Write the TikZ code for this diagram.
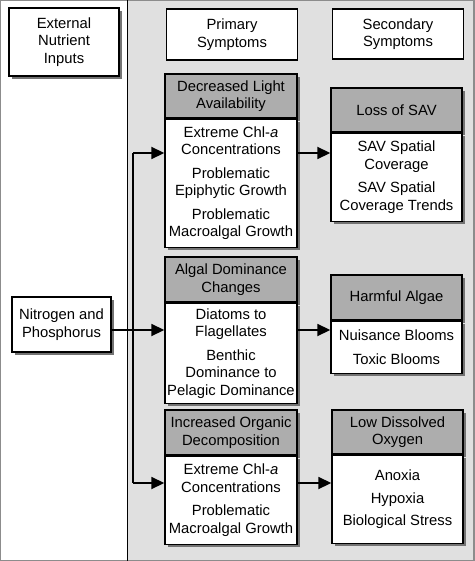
\documentclass[tikz,border=0pt]{standalone}
\usepackage{fontspec}
\setmainfont{Liberation Sans}
\usetikzlibrary{positioning, arrows.meta, shadows}
\tikzset{
        >={Triangle[length=13pt,width=12pt]}, % big filled heads
        box/.style={draw, line width=1.4pt, fill=white, inner sep=0pt, align=center,
                    font=\fontsize{14.8}{17.5}\selectfont},
        shbox/.style={box, drop shadow={shadow xshift=3pt, shadow yshift=-3pt, fill=black!55, opacity=1}},
        hdr/.style={shbox, fill=black!32},
        link/.style={->, line width=1.8pt}
        }

\begin{document}
\begin{tikzpicture}[x=1pt, y=-1pt, node distance=0pt]
        \useasboundingbox (0,0) rectangle (474,561);
        % the two panels
        \fill[black!12] (128,0) rectangle (474,561);
        \draw[black!45, line width=2pt] (0,0) rectangle (474,561);
        \draw[line width=1.2pt] (127.5,0) -- (127.5,561);

        % column titles and input
        \node[shbox, minimum width=110pt, minimum height=68pt](ext) at (64,42){External\\Nutrient\\Inputs};
        \node[box, minimum width=131pt, minimum height=51pt](prim) at (232,34.5){Primary\\Symptoms};
        \node[box, minimum width=131pt, minimum height=50pt](sec) at (398,34){Secondary\\Symptoms};
        \node[shbox, minimum width=99pt, minimum height=55pt](np) at (61.5,324.5){Nitrogen and\\Phosphorus};

        % primary symptoms
        \node[hdr, minimum width=132pt, minimum height=44pt](p1h) at (231,96){Decreased Light\\Availability};
        \node[shbox, minimum width=132pt, minimum height=128pt, below=of p1h](p1b)
              {Extreme Chl-\textit{a}\\Concentrations\\[6pt]Problematic\\Epiphytic Growth\\[6pt]Problematic\\Macroalgal Growth};
        \node[hdr, minimum width=132pt, minimum height=45pt](p2h) at (231,279.5){Algal Dominance\\Changes};
        \node[shbox, minimum width=132pt, minimum height=100pt, below=of p2h](p2b)
              {Diatoms to\\Flagellates\\[6pt]Benthic\\Dominance to\\Pelagic Dominance};
        \node[hdr, minimum width=132pt, minimum height=45pt](p3h) at (231,432.5){Increased Organic\\Decomposition};
        \node[shbox, minimum width=132pt, minimum height=88pt, below=of p3h](p3b)
              {Extreme Chl-\textit{a}\\Concentrations\\[6pt]Problematic\\Macroalgal Growth};

        % secondary symptoms
        \node[hdr, minimum width=131pt, minimum height=44pt](s1h) at (396.5,110){Loss of SAV};
        \node[shbox, minimum width=131pt, minimum height=88pt, below=of s1h](s1b)
              {SAV Spatial\\Coverage\\[6pt]SAV Spatial\\Coverage Trends};
        \node[hdr, minimum width=131pt, minimum height=45pt](s2h) at (396.5,297.5){Harmful Algae};
        \node[shbox, minimum width=131pt, minimum height=52pt, below=of s2h](s2b)
              {Nuisance Blooms\\[6pt]Toxic Blooms};
        \node[hdr, minimum width=131pt, minimum height=44pt](s3h) at (397.5,432){Low Dissolved\\Oxygen};
        \node[shbox, minimum width=131pt, minimum height=88pt, below=of s3h](s3b)
              {Anoxia\\[5pt]Hypoxia\\[5pt]Biological Stress};

        % connectors
        \coordinate (top) at (133,153);
        \coordinate (mid) at (133,330);
        \coordinate (bot) at (133,483);
        \draw[line width=1.8pt] (top) -- (bot);
        \draw[link] (top) -- (top -| p1b.west);
        \draw[link] (np.east |- mid) -- (mid -| p2b.west);
        \draw[link] (bot) -- (bot -| p3b.west);
        \draw[link] (top -| p1b.east) -- (top -| s1b.west);
        \draw[link] (mid -| p2b.east) -- (mid -| s2b.west);
        \draw[link] (bot -| p3b.east) -- (bot -| s3b.west);
\end{tikzpicture}
\end{document}
